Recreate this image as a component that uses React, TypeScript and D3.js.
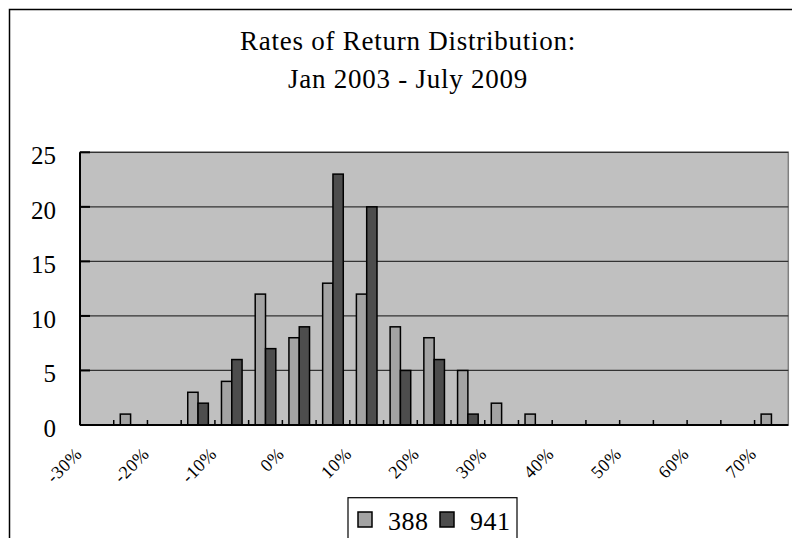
import React from "react";
import * as d3 from "d3";

// Histogram bins (lower edge of each 5% bucket)
const bins = [-30, -25, -20, -15, -10, -5, 0, 5, 10, 15, 20, 25, 30, 35, 40, 45, 50, 55, 60, 65, 70];
const seriesNames = ["388", "941"];
const counts388 = [0, 1, 0, 3, 4, 12, 8, 13, 12, 9, 8, 5, 2, 1, 0, 0, 0, 0, 0, 0, 1];
const counts941 = [0, 0, 0, 2, 6, 7, 9, 23, 20, 5, 6, 1, 0, 0, 0, 0, 0, 0, 0, 0, 0];
const yTicks = [0, 5, 10, 15, 20, 25];
const titleLines = ["Rates of Return Distribution:", "Jan 2003 - July 2009"];

const W = 792;
const H = 538;
const plot = { left: 80, right: 788.3, top: 152.3, bottom: 425 };
const colors: Record<string, string> = { "388": "#a3a3a3", "941": "#4d4d4d" };
const FONT = "'Liberation Serif', 'DejaVu Serif', serif";

export default function App() {
  const x = d3
    .scaleBand<number>()
    .domain(bins)
    .range([plot.left, plot.right])
    .paddingInner(0)
    .paddingOuter(0);
  const x1 = d3
    .scaleBand<string>()
    .domain(seriesNames)
    .range([0, x.bandwidth()])
    .paddingInner(0)
    .paddingOuter(0.637);
  const y = d3.scaleLinear().domain([0, 25]).range([plot.bottom, plot.top]);

  const rows = bins.map((b, i) => ({ bin: b, values: { "388": counts388[i], "941": counts941[i] } as Record<string, number> }));
  const boundaries = d3.range(1, bins.length).map((i) => plot.left + i * x.step());

  return (
    <svg
      width={W}
      height={H}
      style={{ position: "absolute", left: 0, top: 0, background: "#fff" }}
      fontFamily={FONT}
    >
      {/* chart frame */}
      <rect x={9.5} y={9.5} width={820} height={600} fill="#fff" stroke="#000" strokeWidth={1.5} />

      {/* title */}
      {titleLines.map((t, i) => (
        <text key={t} x={408} y={50 + i * 38} textAnchor="middle" fontSize={27} letterSpacing={0.75} fill="#000">
          {t}
        </text>
      ))}

      {/* plot area */}
      <rect
        x={plot.left}
        y={plot.top}
        width={plot.right - plot.left}
        height={plot.bottom - plot.top}
        fill="#c0c0c0"
        stroke="#808080"
        strokeWidth={1.5}
      />

      {/* gridlines */}
      {yTicks.slice(1).map((t) => (
        <line key={t} x1={plot.left} x2={plot.right} y1={y(t)} y2={y(t)} stroke="#333" strokeWidth={1.2} />
      ))}

      {/* bars */}
      {rows.map((r) =>
        seriesNames.map((s) =>
          r.values[s] > 0 ? (
            <rect
              key={`${r.bin}-${s}`}
              x={(x(r.bin) as number) + (x1(s) as number)}
              y={y(r.values[s])}
              width={x1.bandwidth()}
              height={y(0) - y(r.values[s])}
              fill={colors[s]}
              stroke="#000"
              strokeWidth={1.5}
            />
          ) : null
        )
      )}

      {/* axes */}
      <line x1={plot.left} x2={plot.left} y1={plot.top} y2={plot.bottom} stroke="#000" strokeWidth={2} />
      <line x1={plot.left} x2={plot.right} y1={plot.bottom} y2={plot.bottom} stroke="#000" strokeWidth={2} />
      {yTicks.map((t) => (
        <g key={t}>
          <line x1={plot.left} x2={plot.left + 10} y1={y(t)} y2={y(t)} stroke="#000" strokeWidth={2} />
          <text x={56} y={y(t) + 12} textAnchor="end" fontSize={25} fill="#000">
            {t}
          </text>
        </g>
      ))}
      {boundaries.map((bx, i) => (
        <line key={i} x1={bx} x2={bx} y1={plot.bottom} y2={plot.bottom - 5} stroke="#000" strokeWidth={1.5} />
      ))}
      {bins.map((b) =>
        b % 10 === 0 ? (
          <text
            key={b}
            transform={`translate(${(x(b) as number) + x.bandwidth() / 2 - 14},455) rotate(-45)`}
            textAnchor="end"
            fontSize={18}
            letterSpacing={0.5}
            fill="#000"
          >
            {`${b}%`}
          </text>
        ) : null
      )}

      {/* legend */}
      <rect x={348} y={497.7} width={169} height={60} fill="#fff" stroke="#000" strokeWidth={1.2} />
      {seriesNames.map((s, i) => (
        <g key={s} transform={`translate(${358 + i * 82},512)`}>
          <rect width={14} height={15} fill={colors[s]} stroke="#000" strokeWidth={1.5} />
          <text x={30} y={18} fontSize={26} letterSpacing={0.5} fill="#000">
            {s}
          </text>
        </g>
      ))}
    </svg>
  );
}
